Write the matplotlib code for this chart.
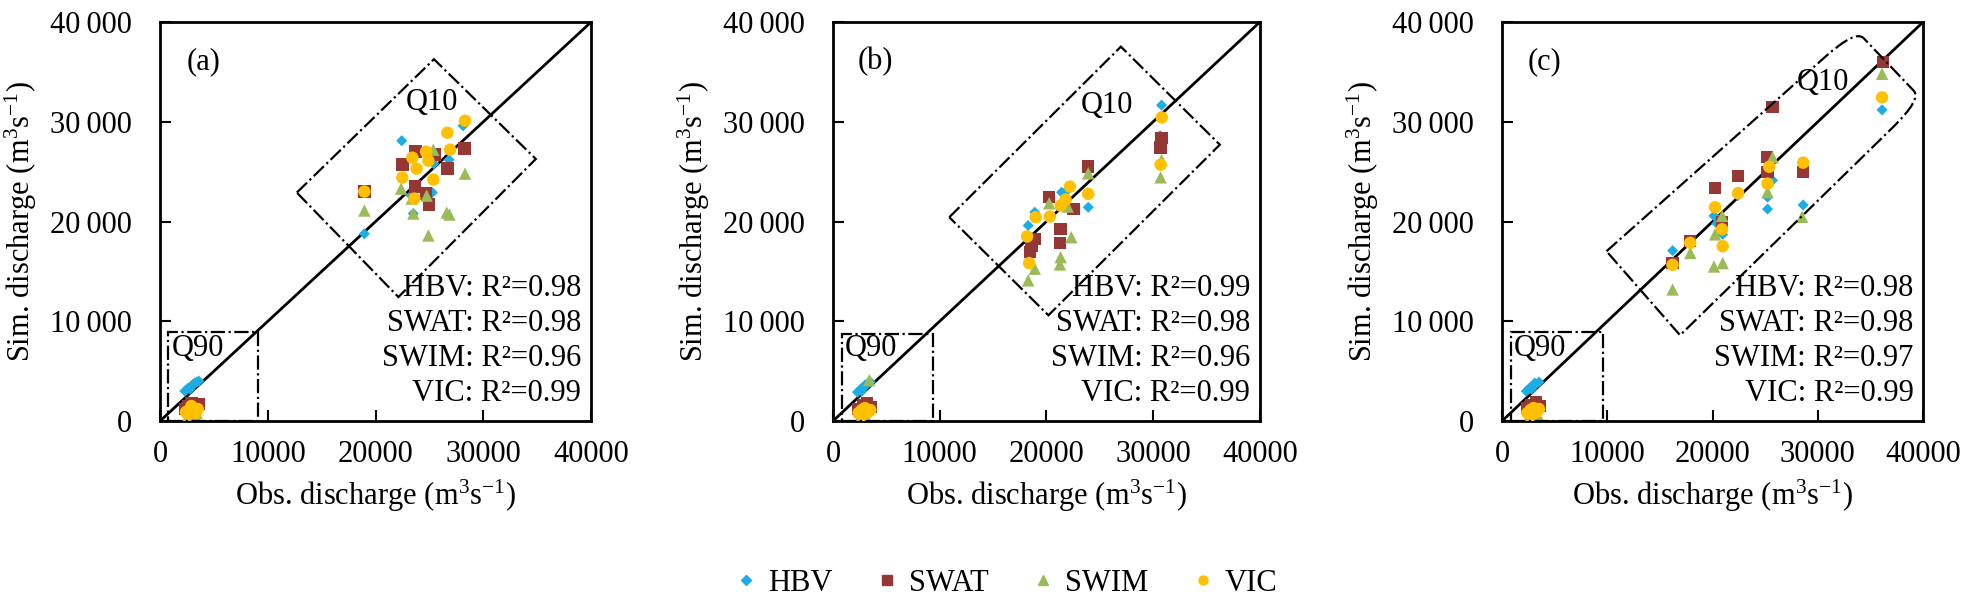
import matplotlib
matplotlib.use('Agg')
import matplotlib.pyplot as plt
from matplotlib.path import Path
from matplotlib.patches import PathPatch, Rectangle
from matplotlib.lines import Line2D

plt.rcParams['font.family'] = ['Liberation Serif', 'DejaVu Serif']
plt.rcParams['mathtext.default'] = 'regular'

models = ['HBV', 'SWAT', 'SWIM', 'VIC']
colors = ['#1CADE4', '#953735', '#9BBB59', '#FFC000']
markers = ['D', 's', '^', 'o']
msizes = [32, 80, 80, 80]

tags = ['(a)', '(b)', '(c)']
r2_a = [0.98, 0.98, 0.96, 0.99]
r2_b = [0.99, 0.98, 0.96, 0.99]
r2_c = [0.98, 0.98, 0.97, 0.99]

# ---- panel (a): observed (x) vs simulated (y) discharge, Q90 points then Q10 points
a_hbv_x = [2300, 2600, 2900, 3100, 3400, 3600, 2800, 3200,
           22430, 18960, 28120, 26820, 23500, 25270, 23300, 25400, 24700, 23700]
a_hbv_y = [3000, 3300, 3500, 3700, 3900, 4000, 3200, 3800,
           28100, 18770, 29600, 26200, 20800, 22900, 22600, 25800, 27000, 23300]
a_swat_x = [2300, 2600, 2900, 3300, 3600, 2700, 3100, 2500,
            18960, 28250, 26680, 22500, 23720, 25460, 23660, 24690, 24960]
a_swat_y = [1200, 1500, 1800, 1400, 1700, 1000, 1600, 1300,
            23000, 27300, 25300, 25700, 27000, 26700, 23500, 22800, 21700]
a_swim_x = [2500, 2800, 3100, 3300, 2600, 3000, 2900, 3400,
            18960, 22370, 24900, 26600, 26850, 28300, 25360, 23500, 24740, 23350]
a_swim_y = [300, 500, 600, 400, 200, 700, 100, 800,
            21100, 23300, 18600, 20900, 20700, 24800, 27200, 20800, 22600, 22300]
a_vic_x = [2400, 2700, 3000, 3200, 3500, 2600, 2900, 3300,
           18960, 26660, 26910, 24690, 23410, 24900, 23810, 22480, 25360, 23600, 28300]
a_vic_y = [900, 1100, 1300, 1000, 1200, 700, 1500, 800,
           23000, 28900, 27200, 27000, 26400, 26100, 25300, 24400, 24200, 22300, 30100]

# ---- panel (b)
b_hbv_x = [2300, 2600, 2900, 3200, 3500, 2700, 3000,
           30790, 30650, 23920, 21420, 18910, 18290, 21600, 22000]
b_hbv_y = [2900, 3200, 3400, 3700, 3900, 3000, 3600,
           31670, 28600, 21430, 22930, 20930, 19600, 21800, 23200]
b_swat_x = [2400, 2800, 3200, 3500, 2600, 3000,
            30790, 30700, 23920, 20260, 22520, 18910, 18440, 21330, 21270, 18600]
b_swat_y = [1200, 1600, 1800, 1400, 900, 1300,
            28370, 27430, 25500, 22430, 21270, 18270, 16930, 19270, 17830, 17600]
b_swim_x = [3400, 2500, 2900, 3200, 2700,
            30790, 30700, 23920, 20260, 22330, 21330, 21270, 18910, 18290, 22000]
b_swim_y = [4100, 300, 500, 200, 100,
            26170, 24430, 24830, 21830, 18430, 16430, 15700, 15270, 14100, 21500]
b_vic_x = [2400, 2700, 3000, 3300, 2800, 3500,
           30810, 30700, 23920, 22200, 21330, 20320, 19000, 18190, 18380, 21800]
b_vic_y = [800, 1100, 1300, 900, 600, 1100,
           30430, 25700, 22770, 23500, 21600, 20500, 20430, 18500, 15830, 22200]

# ---- panel (c)
c_hbv_x = [2300, 2600, 2900, 3200, 3500, 2800, 3100,
           36100, 25700, 25220, 25220, 28600, 20130, 20960, 16200, 20400, 22400]
c_hbv_y = [3000, 3300, 3500, 3700, 3900, 3200, 3800,
           31190, 24130, 22440, 21250, 21660, 20570, 18710, 17080, 19800, 22600]
c_swat_x = [2400, 2800, 3200, 3600, 2600, 3000,
            36170, 25700, 25160, 25220, 28600, 22420, 20230, 20900, 17880, 16200]
c_swat_y = [1300, 1600, 1900, 1500, 1000, 1200,
            36000, 31490, 26440, 24980, 24980, 24540, 23350, 19900, 18030, 15830]
c_swim_x = [2500, 2900, 3200, 2700, 3400,
            36100, 25700, 25220, 28500, 20900, 20230, 20130, 20960, 17880, 16200]
c_swim_y = [300, 500, 200, 100, 600,
            34810, 26440, 22950, 20470, 20570, 18710, 15490, 15830, 16850, 13190]
c_vic_x = [2400, 2700, 3000, 3300, 2800, 3500,
           36100, 25380, 25220, 28600, 22420, 20230, 20900, 20960, 17880, 16200]
c_vic_y = [800, 1100, 1300, 900, 600, 1200,
           32440, 25490, 23800, 25900, 22850, 21420, 19220, 17520, 17860, 15660]

# Q90 / Q10 outline boxes (annotation geometry, data units)
q90_a = (740, 9100, 8900)
q90_b = (840, 9370, 8700)
q90_c = (800, 9600, 8900)
q10_a = [(12690, 22900), (25420, 36270), (34870, 26270), (22120, 12430)]
q10_b = [(10900, 20430), (26980, 37530), (36250, 27700), (20190, 10600)]
q10_c = [(9920, 17020), (33590, 39220), (39870, 32270), (16910, 8600)]
q10_txt = [(25240, 31900), (25640, 31600), (30450, 33960)]

panels = [
    ([(a_hbv_x, a_hbv_y), (a_swat_x, a_swat_y), (a_swim_x, a_swim_y), (a_vic_x, a_vic_y)],
     r2_a, q90_a, q10_a, False),
    ([(b_hbv_x, b_hbv_y), (b_swat_x, b_swat_y), (b_swim_x, b_swim_y), (b_vic_x, b_vic_y)],
     r2_b, q90_b, q10_b, False),
    ([(c_hbv_x, c_hbv_y), (c_swat_x, c_swat_y), (c_swim_x, c_swim_y), (c_vic_x, c_vic_y)],
     r2_c, q90_c, q10_c, True),
]

FS = 22
fig = plt.figure(figsize=(19.71, 6.0), dpi=100)
rects = [(0.0812, 0.2983, 0.2187, 0.665),
         (0.4226, 0.2983, 0.2166, 0.665),
         (0.7621, 0.2983, 0.2136, 0.665)]


def rounded_path(pts, round_idx, t=0.12):
    # closed polygon, corners listed in round_idx get a soft curve
    verts, codes = [], []
    n = len(pts)
    for i in range(n):
        p = pts[i]
        if i in round_idx:
            a = pts[i - 1]
            b = pts[(i + 1) % n]
            p1 = (p[0] + t * (a[0] - p[0]), p[1] + t * (a[1] - p[1]))
            p2 = (p[0] + t * (b[0] - p[0]), p[1] + t * (b[1] - p[1]))
            verts += [p1, p, p2]
            codes += [Path.MOVETO if i == 0 else Path.LINETO, Path.CURVE3, Path.CURVE3]
        else:
            verts.append(p)
            codes.append(Path.MOVETO if i == 0 else Path.LINETO)
    verts.append(verts[0])
    codes.append(Path.CLOSEPOLY)
    return Path(verts, codes)


for k, (series, r2, q90, q10, rounded) in enumerate(panels):
    ax = fig.add_axes(rects[k])
    ax.plot([0, 40000], [0, 40000], color='black', lw=2, zorder=2)
    for (xs, ys), c, m, s in zip(series, colors, markers, msizes):
        ax.scatter(xs, ys, marker=m, s=s, color=c, edgecolors='none', zorder=3)

    # boxes
    ax.add_patch(Rectangle((q90[0], 0), q90[1] - q90[0], q90[2], fill=False,
                           ls='-.', lw=1.6, color='black', clip_on=False, zorder=4))
    path = rounded_path(q10, [1, 2] if rounded else [])
    ax.add_patch(PathPatch(path, fill=False, ls='-.', lw=1.6, color='black', zorder=4))
    ax.text(1100, 7300, 'Q90', fontsize=FS, ha='left', va='center', zorder=5)
    ax.text(q10_txt[k][0], q10_txt[k][1], 'Q10', fontsize=FS, ha='center', va='center', zorder=5)
    ax.text(0.1, 0.9, tags[k], transform=ax.transAxes, fontsize=FS, ha='center', va='center')

    for i, (name, v) in enumerate(zip(models, r2)):
        ax.text(0.977, 0.3325 - i * 0.0875, f'{name}: R²={v:.2f}', transform=ax.transAxes,
                fontsize=FS, ha='right', va='center', zorder=5)

    ax.set_xlim(0, 40000)
    ax.set_ylim(0, 40000)
    ax.set_xticks([0, 10000, 20000, 30000, 40000])
    ax.set_xticklabels(['0', '10000', '20000', '30000', '40000'])
    ax.set_yticks([0, 10000, 20000, 30000, 40000])
    ax.set_yticklabels(['0', '10\u2009000', '20\u2009000', '30\u2009000', '40\u2009000'])
    ax.tick_params(axis='both', direction='in', length=8, width=1.5, labelsize=FS)
    ax.tick_params(axis='x', pad=14)
    ax.tick_params(axis='y', pad=20)
    for sp in ax.spines.values():
        sp.set_linewidth(2)
    ax.set_xlabel('Obs. discharge (m$^3$s$^{-1}$)', fontsize=FS, labelpad=6)
    ax.set_ylabel('Sim. discharge (m$^3$s$^{-1}$)', fontsize=FS, labelpad=8)

handles = [Line2D([], [], ls='none', marker=m, color=c, markersize=5 if m == 'D' else 6.5)
           for m, c in zip(markers, colors)]
fig.legend(handles, models, loc='center', bbox_to_anchor=(0.511, 0.028), ncol=4,
           frameon=False, fontsize=FS, handletextpad=0.4, columnspacing=1.5, handlelength=0.6)

fig.savefig('out.png', dpi=100)
